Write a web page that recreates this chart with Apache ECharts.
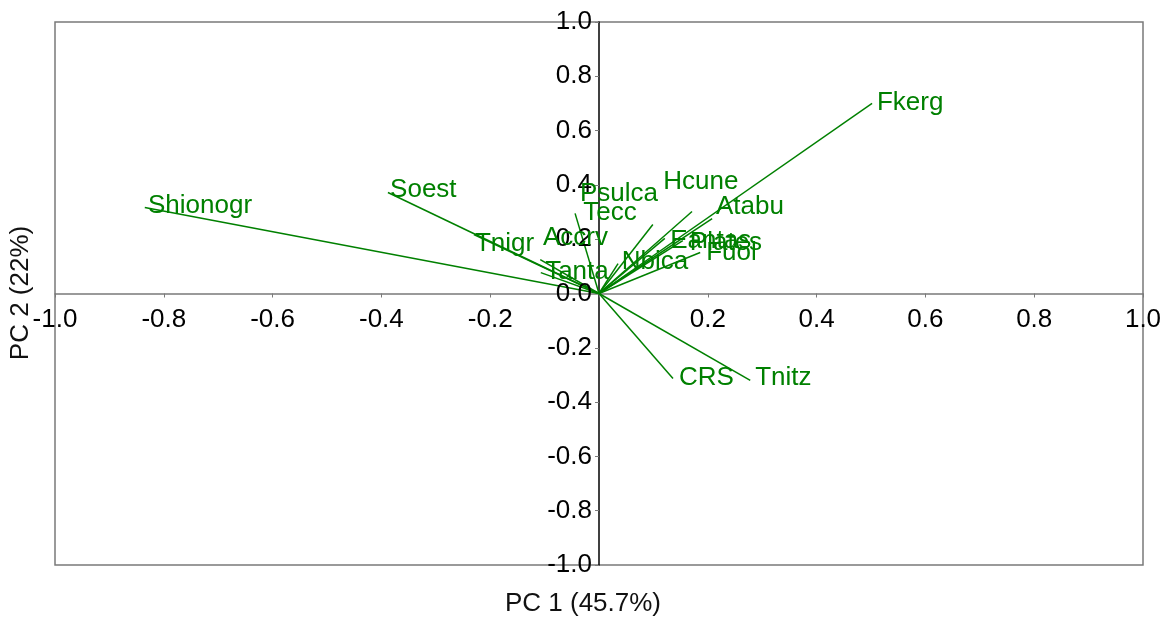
<!DOCTYPE html>
<html><head><meta charset="utf-8">
<script src="https://cdn.jsdelivr.net/npm/echarts@6/dist/echarts.min.js"></script>
<style>html,body{margin:0;padding:0;background:#fff}#c{width:1166px;height:621px}</style>
</head><body><div id="c"></div>
<script>
const names = ['Shionogr','Soest','Fkerg','Hcune','Atabu','Psulca','Tecc','Accrv','Tnigr','Tanta','Nbica','Eantas','Plates','Fuol','CRS','Tnitz'];
const pc1 = [-0.835,-0.388,0.502,0.171,0.208,0.099,-0.044,-0.108,-0.230,-0.107,0.035,0.121,0.154,0.186,0.136,0.278];
const pc2 = [0.317,0.372,0.700,0.302,0.276,0.254,0.295,0.125,0.217,0.077,0.110,0.203,0.195,0.151,-0.313,-0.320];
const labelX = [-0.829,-0.384,0.511,0.118,0.215,-0.035,-0.029,-0.103,-0.228,-0.099,0.042,0.131,0.167,0.197,0.147,0.287];
const labelY = [0.324,0.383,0.703,0.413,0.320,0.368,0.298,0.206,0.184,0.081,0.118,0.195,0.188,0.151,-0.309,-0.309];
const xTicks = [-1.0,-0.8,-0.6,-0.4,-0.2,0.2,0.4,0.6,0.8,1.0];
const yTicks = [-1.0,-0.8,-0.6,-0.4,-0.2,0.0,0.2,0.4,0.6,0.8,1.0];
const xTitle = 'PC 1 (45.7%)';
const yTitle = 'PC 2 (22%)';

const green = '#008000';
const font = "'Liberation Sans', Arial, Helvetica, sans-serif";
const fs = 26;
const series = names.map((n,i)=>({
  type:'line', name:n, data:[[0,0],[pc1[i],pc2[i]]], symbol:'none', silent:true,
  lineStyle:{color:green,width:1.5}, z:3
}));
const lab = (color, pos, dist) => ({show:true,position:pos,distance:dist,formatter:p=>p.name,color:color,opacity:1,fontSize:fs,fontFamily:font,textBorderWidth:0});
series.push({
  type:'scatter', symbolSize:0, z:5, silent:true, itemStyle:{opacity:1},
  data: names.map((n,i)=>({name:n,value:[labelX[i],labelY[i]]})),
  label:lab(green,'right',0)
});
series.push({
  type:'scatter', symbolSize:0, z:4, silent:true, itemStyle:{opacity:1},
  data: xTicks.map(v=>({name:v.toFixed(1),value:[v,0]})),
  label:lab('#000','bottom',13)
});
series.push({
  type:'scatter', symbolSize:0, z:4, silent:true, itemStyle:{opacity:1},
  data: yTicks.map(v=>({name:v.toFixed(1),value:[0,v]})),
  label:lab('#000','left',7)
});
const chart = echarts.init(document.getElementById('c'));
chart.setOption({
  animation:false,
  grid:{left:55,right:23,top:22,bottom:56,show:true,borderColor:'#7a7a7a',borderWidth:1.5,backgroundColor:'transparent'},
  xAxis:{type:'value',min:-1,max:1,interval:0.2,
    axisLine:{onZero:true,lineStyle:{color:'#7a7a7a',width:1.5}},
    axisTick:{length:4,lineStyle:{color:'#7a7a7a'}},
    axisLabel:{show:false},
    splitLine:{show:false}
  },
  yAxis:{type:'value',min:-1,max:1,interval:0.2,
    axisLine:{onZero:true,lineStyle:{color:'#000',width:1.5}},
    axisTick:{length:4,lineStyle:{color:'#7a7a7a'}},
    axisLabel:{show:false},
    splitLine:{show:false}
  },
  graphic:[
    {type:'text',left:'center',top:591,style:{text:xTitle,font:fs+'px '+font,fill:'#111'}},
    {type:'text',x:8,y:293,rotation:Math.PI/2,style:{text:yTitle,font:fs+'px '+font,fill:'#111',textAlign:'center',textVerticalAlign:'top'}}
  ],
  series:series
});
</script></body></html>
